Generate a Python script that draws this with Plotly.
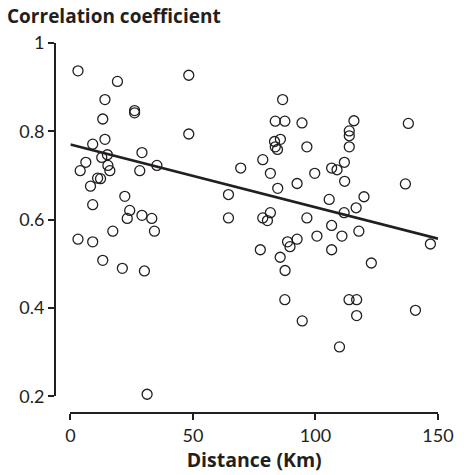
import plotly.graph_objects as go

# Distance (km) and correlation coefficient values
distance = [3.1, 19.2, 48.3, 14.1, 26.2, 26.2, 13.2, 48.3, 14.1, 9.1,
            29.2, 15.1, 12.8, 6.3, 15.3, 35.3, 4.0, 16.1, 28.3, 11.1,
            12.3, 8.2, 22.2, 9.1, 24.2, 23.2, 29.2, 33.2, 17.3, 34.3,
            3.1, 9.1, 13.2, 21.2, 30.2, 31.3,
            86.6, 83.6, 87.5, 94.5, 85.7, 83.3, 83.6, 84.5, 96.5, 78.5,
            69.5, 81.6, 99.7, 92.5, 84.6, 64.5, 64.5, 78.5, 81.6, 80.4,
            96.5, 92.5, 88.6, 89.6, 77.5, 85.6, 87.6, 87.5, 94.6, 100.6,
            115.7, 137.9, 113.8, 113.8, 113.8, 111.8, 106.6, 108.8, 111.9, 136.7,
            105.6, 119.8, 116.6, 111.7, 106.6, 110.8, 117.7, 106.6, 146.9, 122.8,
            113.7, 116.8, 116.8, 140.8, 109.8]
correlation = [0.937, 0.913, 0.927, 0.872, 0.847, 0.842, 0.828, 0.794, 0.782, 0.771,
               0.752, 0.747, 0.741, 0.730, 0.723, 0.723, 0.711, 0.711, 0.711, 0.694,
               0.693, 0.676, 0.653, 0.634, 0.621, 0.603, 0.610, 0.603, 0.574, 0.574,
               0.556, 0.550, 0.508, 0.490, 0.484, 0.205,
               0.872, 0.823, 0.823, 0.819, 0.782, 0.777, 0.765, 0.759, 0.765, 0.736,
               0.717, 0.705, 0.705, 0.682, 0.671, 0.657, 0.604, 0.604, 0.616, 0.598,
               0.604, 0.556, 0.550, 0.539, 0.532, 0.515, 0.485, 0.419, 0.371, 0.563,
               0.824, 0.818, 0.801, 0.790, 0.765, 0.730, 0.717, 0.713, 0.687, 0.681,
               0.646, 0.652, 0.627, 0.616, 0.587, 0.563, 0.574, 0.532, 0.545, 0.502,
               0.419, 0.419, 0.383, 0.395, 0.312]

# Fitted regression line
fit_x = [0, 150]
fit_y = [0.770, 0.557]

x_ticks = [0, 50, 100, 150]
y_ticks = [0.2, 0.4, 0.6, 0.8, 1]
y_tick_labels = ["0.2", "0.4", "0.6", "0.8", "1"]

INK = "#231f20"
FONT = "Lato"
TITLE_FONT = "Open Sans"

fig = go.Figure()
fig.add_trace(go.Scatter(
    x=distance, y=correlation, mode="markers",
    marker=dict(symbol="circle-open", size=10, color=INK, line=dict(width=1.3, color=INK)),
    cliponaxis=False, hoverinfo="skip", showlegend=False))
fig.add_trace(go.Scatter(
    x=fit_x, y=fit_y, mode="lines",
    line=dict(color=INK, width=2.6),
    cliponaxis=False, hoverinfo="skip", showlegend=False))

W, H = 466, 475
L, R, T, B = 55, 13, 43, 59
pw = W - L - R
ph = H - T - B

fig.update_layout(
    width=W, height=H,
    margin=dict(l=L, r=R, t=T, b=B, pad=0),
    paper_bgcolor="white", plot_bgcolor="white",
    font=dict(family=FONT, size=17, color=INK),
    showlegend=False,
    xaxis=dict(
        domain=[16 / pw, 1], range=[0, 150], anchor="free", position=0,
        showline=True, linecolor=INK, linewidth=2,
        ticks="outside", ticklen=6, tickwidth=2, tickcolor=INK,
        tickvals=x_ticks, ticktext=[str(v) for v in x_ticks],
        ticklabeloverflow="allow",
        showgrid=False, zeroline=False,
        tickfont=dict(family=FONT, size=18, color=INK),
        title=dict(text="<b>Distance (Km)</b>", standoff=4,
                   font=dict(family=TITLE_FONT, size=19.5, color=INK)),
    ),
    yaxis=dict(
        domain=[(416 - 399.3) / ph, 1], range=[0.2, 1], anchor="free", position=0,
        showline=True, linecolor=INK, linewidth=2,
        ticks="outside", ticklen=6, tickwidth=2, tickcolor=INK,
        tickvals=y_ticks, ticktext=y_tick_labels,
        showgrid=False, zeroline=False,
        tickfont=dict(family=FONT, size=18, color=INK),
    ),
    annotations=[dict(
        text="<b>Correlation coefficient</b>", xref="paper", yref="paper",
        x=(3 - L) / pw, y=(H - B - 31) / ph, xanchor="left", yanchor="bottom",
        showarrow=False, font=dict(family=TITLE_FONT, size=19, color=INK))],
)

fig.write_html("out.html")
